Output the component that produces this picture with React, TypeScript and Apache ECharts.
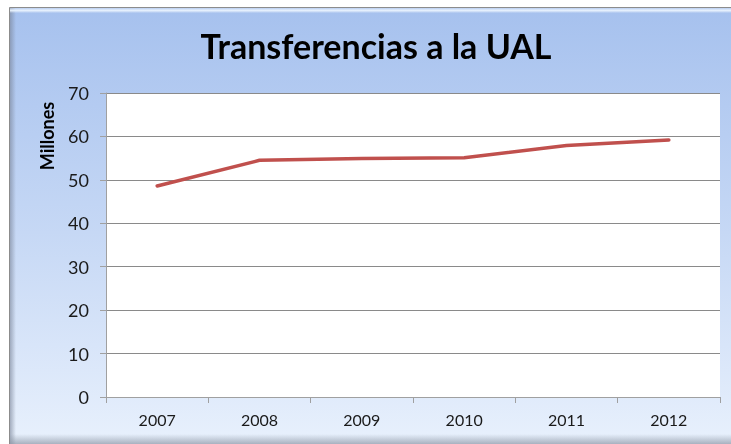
import React, { useEffect, useRef } from "react";
import * as echarts from "echarts";

const years = ["2007", "2008", "2009", "2010", "2011", "2012"];
const transfers = [48.6, 54.5, 54.9, 55.1, 57.9, 59.2];
const yTicks = { min: 0, max: 70, interval: 10 };

export default function App() {
  const ref = useRef<HTMLDivElement>(null);
  useEffect(() => {
    const chart = echarts.init(ref.current!, null, { renderer: "svg" });
    const font = "Lato, 'Open Sans', sans-serif";
    chart.setOption({
      animation: false,
      graphic: [
        {
          type: "rect",
          z: -10,
          shape: { x: 9.5, y: 7.5, width: 740, height: 450 },
          style: {
            fill: new echarts.graphic.LinearGradient(0, 0, 0, 1, [
              { offset: 0, color: "#a6c1ee" },
              { offset: 0.5, color: "#c6d8f5" },
              { offset: 1, color: "#eaf2fd" },
            ]),
            stroke: "#8c8c8c",
            lineWidth: 1,
          },
          silent: true,
        },
        {
          type: "rect",
          z: -9,
          shape: { x: 10, y: 8, width: 6, height: 436 },
          style: {
            fill: new echarts.graphic.LinearGradient(0, 0, 1, 0, [
              { offset: 0, color: "rgba(120,130,150,0.6)" },
              { offset: 1, color: "rgba(120,130,150,0)" },
            ]),
          },
          silent: true,
        },
        {
          type: "rect",
          z: -9,
          shape: { x: 10, y: 8, width: 730, height: 5 },
          style: {
            fill: new echarts.graphic.LinearGradient(0, 0, 0, 1, [
              { offset: 0, color: "rgba(255,255,255,0.2)" },
              { offset: 0.5, color: "rgba(235,245,255,0.9)" },
              { offset: 1, color: "rgba(255,255,255,0)" },
            ]),
          },
          silent: true,
        },
        {
          type: "rect",
          z: -9,
          shape: { x: 10, y: 434, width: 730, height: 10 },
          style: {
            fill: new echarts.graphic.LinearGradient(0, 0, 0, 1, [
              { offset: 0, color: "rgba(140,150,165,0)" },
              { offset: 1, color: "rgba(140,150,165,0.7)" },
            ]),
          },
          silent: true,
        },
        {
          type: "text",
          x: 376,
          y: 45,
          style: {
            text: "Transferencias a la UAL",
            fontSize: 34,
            fontWeight: "bold",
            fontFamily: font,
            fill: "#000",
            align: "center",
            verticalAlign: "middle",
          },
        },
        {
          type: "text",
          x: 47,
          y: 136,
          rotation: Math.PI / 2,
          style: {
            text: "Millones",
            fontSize: 18,
            fontWeight: "bold",
            fontFamily: font,
            fill: "#000",
            align: "center",
            verticalAlign: "middle",
          },
        },
      ],
      grid: {
        left: 106,
        right: 11,
        top: 93,
        bottom: 47,
        show: true,
        backgroundColor: "#ffffff",
        borderWidth: 0,
      },
      xAxis: {
        type: "category",
        data: years,
        boundaryGap: true,
        axisLine: { show: true, lineStyle: { color: "#a0a0a0", width: 1 } },
        axisTick: { show: true, interval: 0, length: 6, lineStyle: { color: "#a0a0a0" } },
        axisLabel: { fontSize: 16, color: "#1a1a1a", margin: 14, fontFamily: font },
        splitLine: { show: false },
      },
      yAxis: {
        type: "value",
        min: yTicks.min,
        max: yTicks.max,
        interval: yTicks.interval,
        axisLine: { show: true, lineStyle: { color: "#a0a0a0", width: 1 } },
        axisTick: { show: true, length: 6, lineStyle: { color: "#a0a0a0" } },
        axisLabel: { fontSize: 18, color: "#1a1a1a", margin: 17, fontFamily: font },
        splitLine: { show: true, lineStyle: { color: "#8a8a8a", width: 1 } },
      },
      series: [
        {
          type: "line",
          data: transfers,
          showSymbol: false,
          symbol: "none",
          lineStyle: { color: "#c0504d", width: 3.5, cap: "round", join: "round" },
        },
      ],
    });
    return () => chart.dispose();
  }, []);
  return (
    <div
      ref={ref}
      style={{ position: "fixed", left: 0, top: 0, width: 731, height: 444 }}
    />
  );
}
